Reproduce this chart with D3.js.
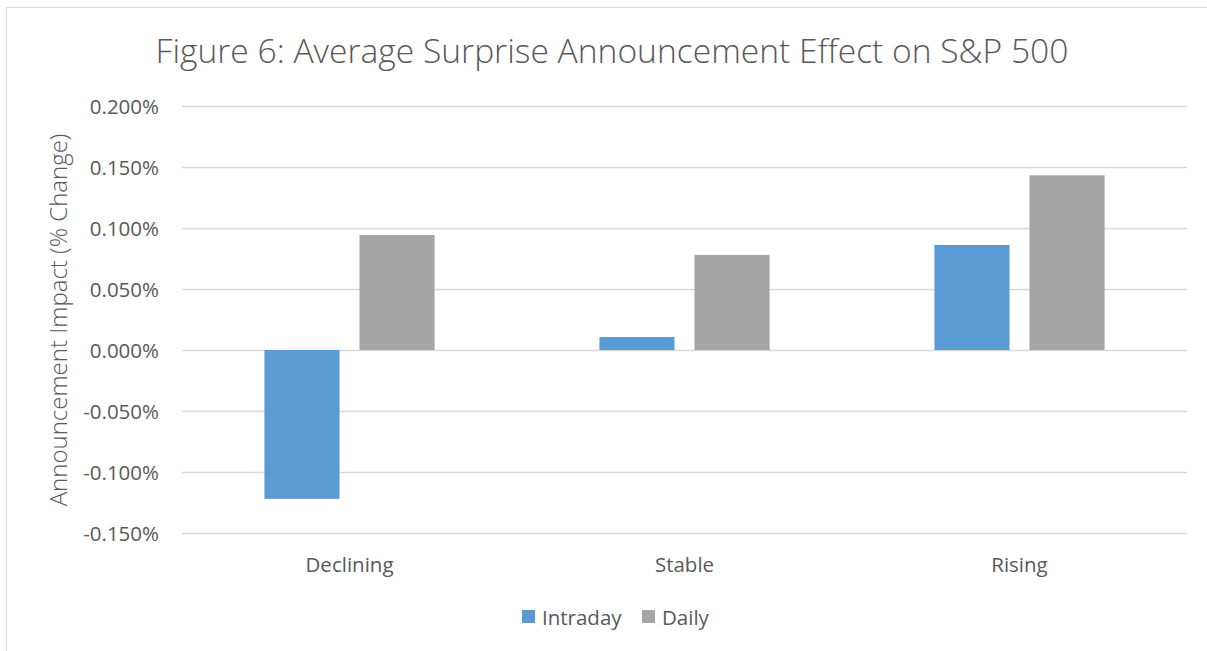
<!DOCTYPE html>
<html><head><meta charset="utf-8">
<script src="https://cdn.jsdelivr.net/npm/d3@7/dist/d3.min.js"></script>
<style>
body{margin:0;background:#fff;}
svg text{font-family:"Open Sans","Noto Sans",sans-serif;fill:#595959;}
</style></head>
<body><svg id="c" width="1207" height="651"></svg>
<script>
const categories = ["Declining", "Stable", "Rising"];
const seriesNames = ["Intraday", "Daily"];
const intraday = [-0.00122, 0.000107, 0.000861];
const daily = [0.000943, 0.000779, 0.001432];
const yTicks = [-0.0015, -0.001, -0.0005, 0, 0.0005, 0.001, 0.0015, 0.002];
const colors = ["#5b9bd5", "#a5a5a5"];
const title = "Figure 6: Average Surprise Announcement Effect on S&P 500";
const yTitle = "Announcement Impact (% Change)";

const svg = d3.select("#c");
// chart border
svg.append("rect").attr("x",6.5).attr("y",7.5).attr("width",1220).attr("height",700)
  .attr("fill","none").attr("stroke","#d9d9d9").attr("stroke-width",1);

const L=182, R=1187, T=106, B=533;
const y = d3.scaleLinear().domain([-0.0015,0.002]).range([B,T]);
const x0 = d3.scaleBand().domain(categories).range([L,R]).padding(0);
const x1 = d3.scaleBand().domain(seriesNames).range([0,x0.bandwidth()]).paddingInner(0.21).paddingOuter(0.867);

const fmt = d => (d*100).toFixed(3).replace("\u2212","-") + "%";
const yAxis = d3.axisLeft(y).tickValues(yTicks).tickSize(-(R-L)).tickPadding(23).tickFormat(fmt);
const ga = svg.append("g").attr("transform",`translate(${L},0)`).call(yAxis);
ga.select(".domain").remove();
ga.selectAll(".tick line").attr("stroke","#d9d9d9").attr("stroke-width",1.5);
ga.selectAll(".tick text").attr("font-size",20.5).attr("fill","#595959").attr("dy","0.35em");

const data = categories.map((c,i)=>({cat:c, vals:[intraday[i], daily[i]]}));
const g = svg.append("g");
data.forEach(d=>{
  d.vals.forEach((v,j)=>{
    g.append("rect")
      .attr("x", x0(d.cat)+x1(seriesNames[j]))
      .attr("width", x1.bandwidth())
      .attr("y", y(Math.max(0,v)))
      .attr("height", Math.abs(y(v)-y(0)))
      .attr("fill", colors[j]);
  });
});

// x category labels
const xAxis = d3.axisBottom(x0).tickSize(0).tickPadding(0);
const gx = svg.append("g").attr("transform",`translate(0,${B})`).call(xAxis);
gx.select(".domain").remove();
gx.selectAll(".tick text").attr("font-size",20.5).attr("fill","#595959").attr("y",39).attr("dy",0);

// title
svg.append("text").attr("x",612).attr("y",63).attr("text-anchor","middle")
  .attr("font-size",33.6).attr("font-weight",300).text(title);

// y title
svg.append("text").attr("transform","translate(67,320) rotate(-90)").attr("text-anchor","middle")
  .attr("font-size",24).attr("font-weight",300).text(yTitle);

// legend
const legX = [522, 642];
seriesNames.forEach((s,i)=>{
  svg.append("rect").attr("x",legX[i]).attr("y",610).attr("width",13).attr("height",13).attr("fill",colors[i]);
  svg.append("text").attr("x",legX[i]+20).attr("y",625).attr("font-size",20.5).text(s);
});
</script></body></html>
